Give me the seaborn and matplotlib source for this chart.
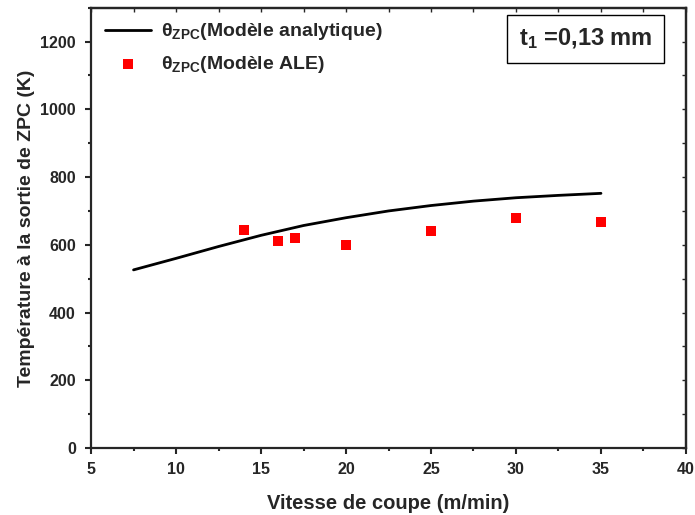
import matplotlib
matplotlib.use('Agg')
import matplotlib.pyplot as plt
import seaborn as sns
from matplotlib.ticker import MultipleLocator

# ── Data ────────────────────────────────────────────────────
vc_model = [7.5, 10, 12.5, 15, 17.5, 20, 22.5, 25, 27.5, 30, 32.5, 35]
temp_model = [526, 560, 595, 628, 657, 680, 700, 716, 729, 739, 746, 752]

vc_ale = [14, 16, 17, 20, 25, 30, 35]
temp_ale = [644, 610, 620, 600, 640, 679, 667]

sns.set_style('ticks')
plt.rcParams['font.family'] = ['Liberation Sans', 'DejaVu Sans']
plt.rcParams['font.weight'] = 'bold'
plt.rcParams['mathtext.fontset'] = 'custom'
plt.rcParams['mathtext.rm'] = 'Liberation Sans:bold'
plt.rcParams['mathtext.bf'] = 'Liberation Sans:bold'
plt.rcParams['mathtext.it'] = 'Liberation Sans:bold'

fig = plt.figure(figsize=(6.95, 5.15), dpi=100)
ax = fig.add_axes([0.131, 0.130, 0.856, 0.855])

sns.lineplot(x=vc_model, y=temp_model, color='black', linewidth=2,
             label=r'θ$_{\mathbf{ZPC}}$(Modèle analytique)', ax=ax)
sns.scatterplot(x=vc_ale, y=temp_ale, color='#ff0000', marker='s', s=60,
                linewidth=0, label=r'θ$_{\mathbf{ZPC}}$(Modèle ALE)', ax=ax)

ax.set_xlim(5, 40)
ax.set_ylim(0, 1300)
ax.xaxis.set_major_locator(MultipleLocator(5))
ax.xaxis.set_minor_locator(MultipleLocator(2.5))
ax.yaxis.set_major_locator(MultipleLocator(200))
ax.yaxis.set_minor_locator(MultipleLocator(100))
ax.set_yticks(range(0, 1201, 200))

ax.tick_params(which='major', direction='out', length=4, width=1.5,
               labelsize=11.5, top=False, right=False)
ax.tick_params(which='minor', direction='out', length=2.5, width=1.5,
               top=False, right=False)
ax.tick_params(axis='y', which='major', pad=7)
ax.tick_params(axis='x', which='major', pad=6)
for side in ['top', 'right', 'bottom', 'left']:
    ax.spines[side].set_linewidth(1.6)
    ax.spines[side].set_visible(True)

# inward ticks on top / right like the original
ax_top = ax.secondary_xaxis('top')
ax_top.xaxis.set_major_locator(MultipleLocator(2.5))
ax_top.tick_params(direction='in', length=3, width=1, labeltop=False)
ax_top.spines['top'].set_linewidth(1.6)
ax_right = ax.secondary_yaxis('right')
ax_right.yaxis.set_major_locator(MultipleLocator(100))
ax_right.tick_params(direction='in', length=3, width=1, labelright=False)
ax_right.spines['right'].set_linewidth(1.6)

for lab in ax.get_xticklabels() + ax.get_yticklabels():
    lab.set_fontweight('bold')

ax.set_xlabel('Vitesse de coupe (m/min)', fontsize=14.5, fontweight='bold', labelpad=12)
ax.set_ylabel('Température à la sortie de ZPC (K)', fontsize=14, fontweight='bold', labelpad=4)

leg = ax.legend(loc='upper left', frameon=False, fontsize=14, handlelength=2.4,
                handletextpad=0.5, borderaxespad=0.3, borderpad=0.4, labelspacing=0.6)
for t in leg.get_texts():
    t.set_fontweight('bold')

ax.text(0.943, 0.957, r't$_1$ =0,13 mm', transform=ax.transAxes, ha='right', va='top',
        fontsize=17, fontweight='bold',
        bbox=dict(boxstyle='square,pad=0.5', facecolor='white', edgecolor='black', linewidth=1))

fig.savefig('out.png', dpi=100)
